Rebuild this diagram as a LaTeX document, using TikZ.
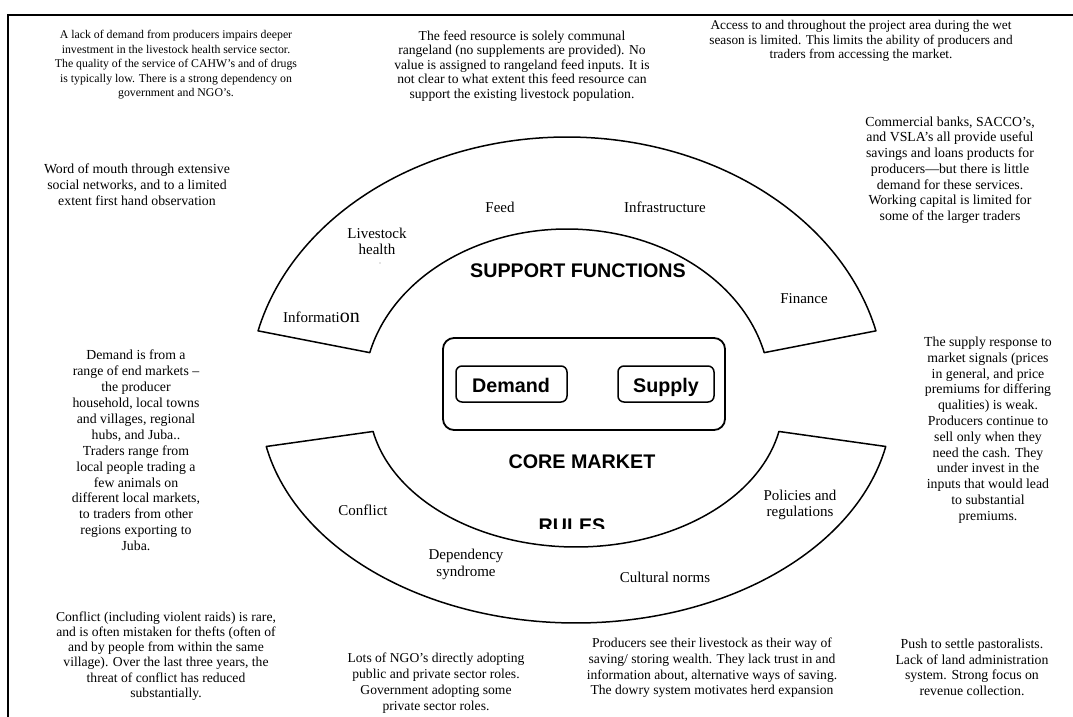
\documentclass[tikz,border=0pt]{standalone}
\usepackage{fontspec}
\setmainfont{Liberation Serif}
\newfontfamily\titlefont{Liberation Sans}
\begin{document}
\begin{tikzpicture}[x=1pt,y=-1pt,
  note/.style={inner sep=0pt, align=center, font=\fontsize{13.8}{15.8}\selectfont},
  lbl/.style={inner sep=0pt, align=center, font=\fontsize{15}{16.5}\selectfont},
  ttl/.style={inner sep=0pt, anchor=base, font=\titlefont\bfseries\fontsize{19.7}{22}\selectfont},
  sector/.style={draw=black, line width=1.5pt, line join=round},
  corebox/.style={draw=black, line width=1.8pt, rounded corners=11pt},
  innerbox/.style={draw=black, line width=1.5pt, rounded corners=6pt},
  frame/.style={draw=black, line width=2pt}]
\useasboundingbox (0,0) rectangle (1073,717);
\clip (0,0) rectangle (1073,717);
\fill[white] (0,0) rectangle (1073,717);

% page frame, running off the right and bottom edges
\draw[frame] (8,720) -- (8,15) -- (1076,15);

% upper block arc: support functions
\draw[sector]
  plot[domain=166.3:13.7, samples=120] ({567+318*cos(\x)},{391-254*sin(\x)})
  -- plot[domain=13.7:166.3, samples=120] ({567+203*cos(\x)},{391-162*sin(\x)})
  -- cycle;

% lower block arc: rules
\draw[sector]
  plot[domain=168.6:11.4, samples=120] ({576+316*cos(\x)},{403+220*sin(\x)})
  -- plot[domain=11.4:168.6, samples=120] ({576+207*cos(\x)},{403+144*sin(\x)})
  -- cycle;

% core market
\draw[corebox] (443,338) rectangle (725,430);
\draw[innerbox] (456,366) rectangle (567,402);
\draw[innerbox] (618,366) rectangle (714,402);
\node[ttl] (demand) at (511,392) {Demand};
\node[ttl] (supply) at (666,392) {Supply};

% titles
\node[ttl] (support) at (578,277) {SUPPORT FUNCTIONS};
\node[ttl] (core) at (582,468) {CORE MARKET};
\begin{scope}
  \clip (480,500) rectangle (680,528);
  \node[ttl] (rules) at (572,532) {RULES};
\end{scope}

% support function labels
\node[lbl, anchor=base west] (information) at (283,322) {Informati{\fontsize{20}{20}\selectfont on}};
\node[lbl] (health) at (377,241.5) {Livestock\\health};
\fill[black!45] (380,263) circle (0.7);
\node[lbl] (feed) at (500,207) {Feed};
\node[lbl] (infra) at (665,207) {Infrastructure};
\node[lbl] (finance) at (804,299) {Finance};

% rules labels
\node[lbl] (conflict) at (363,510) {Conflict};
\node[lbl] (dependency) at (466,564.5) {Dependency\\syndrome};
\node[lbl] (cultural) at (665,577) {Cultural norms};
\node[lbl] (policies) at (800,505) {Policies and\\regulations};

% annotations
\node[note, font=\fontsize{11.8}{14.5}\selectfont] (n-health) at (176,65) {A lack of demand from producers impairs deeper\\investment in the livestock health service sector.\\The quality of the service of CAHW’s and of drugs\\is typically low. There is a strong dependency on\\government and NGO’s.};
\node[note, font=\fontsize{13.6}{14.5}\selectfont] (n-feed) at (522,66) {The feed resource is solely communal\\rangeland (no supplements are provided). No\\value is assigned to rangeland feed inputs. It is\\not clear to what extent this feed resource can\\support the existing livestock population.};
\node[note, font=\fontsize{13.3}{14.5}\selectfont] (n-infra) at (861,41) {Access to and throughout the project area during the wet\\season is limited. This limits the ability of producers and\\traders from accessing the market.};
\node[note, font=\fontsize{13.8}{15.7}\selectfont] (n-finance) at (950,170) {Commercial banks, SACCO’s,\\and VSLA’s all provide useful\\savings and loans products for\\producers—but there is little\\demand for these services.\\Working capital is limited for\\some of the larger traders};
\node[note, font=\fontsize{13.8}{16}\selectfont] (n-info) at (137,185) {Word of mouth through extensive\\social networks, and to a limited\\extent first hand observation};
\node[note, font=\fontsize{13.8}{15.9}\selectfont] (n-demand) at (136,450.5) {Demand is from a\\range of end markets –\\the producer\\household, local towns\\and villages, regional\\hubs, and Juba..\\Traders range from\\local people trading a\\few animals on\\different local markets,\\to traders from other\\regions exporting to\\Juba.};
\node[note, font=\fontsize{13.8}{15.8}\selectfont] (n-supply) at (988,430) {The supply response to\\market signals (prices\\in general, and price\\premiums for differing\\qualities) is weak.\\Producers continue to\\sell only when they\\need the cash. They\\under invest in the\\inputs that would lead\\to substantial\\premiums.};
\node[note, font=\fontsize{13.6}{15.2}\selectfont] (n-conflict) at (166,656) {Conflict (including violent raids) is rare,\\and is often mistaken for thefts (often of\\and by people from within the same\\village). Over the last three years, the\\threat of conflict has reduced\\substantially.};
\node[note, font=\fontsize{13.6}{16}\selectfont] (n-dependency) at (436,683) {Lots of NGO’s directly adopting\\public and private sector roles.\\Government adopting some\\private sector roles.};
\node[note, font=\fontsize{13.6}{15.6}\selectfont] (n-cultural) at (712,668) {Producers see their livestock as their way of\\saving/ storing wealth. They lack trust in and\\information about, alternative ways of saving.\\The dowry system motivates herd expansion};
\node[note, font=\fontsize{13.8}{15.6}\selectfont] (n-policies) at (972,667.5) {Push to settle pastoralists.\\Lack of land administration\\system. Strong focus on\\revenue collection.};
\end{tikzpicture}
\end{document}
